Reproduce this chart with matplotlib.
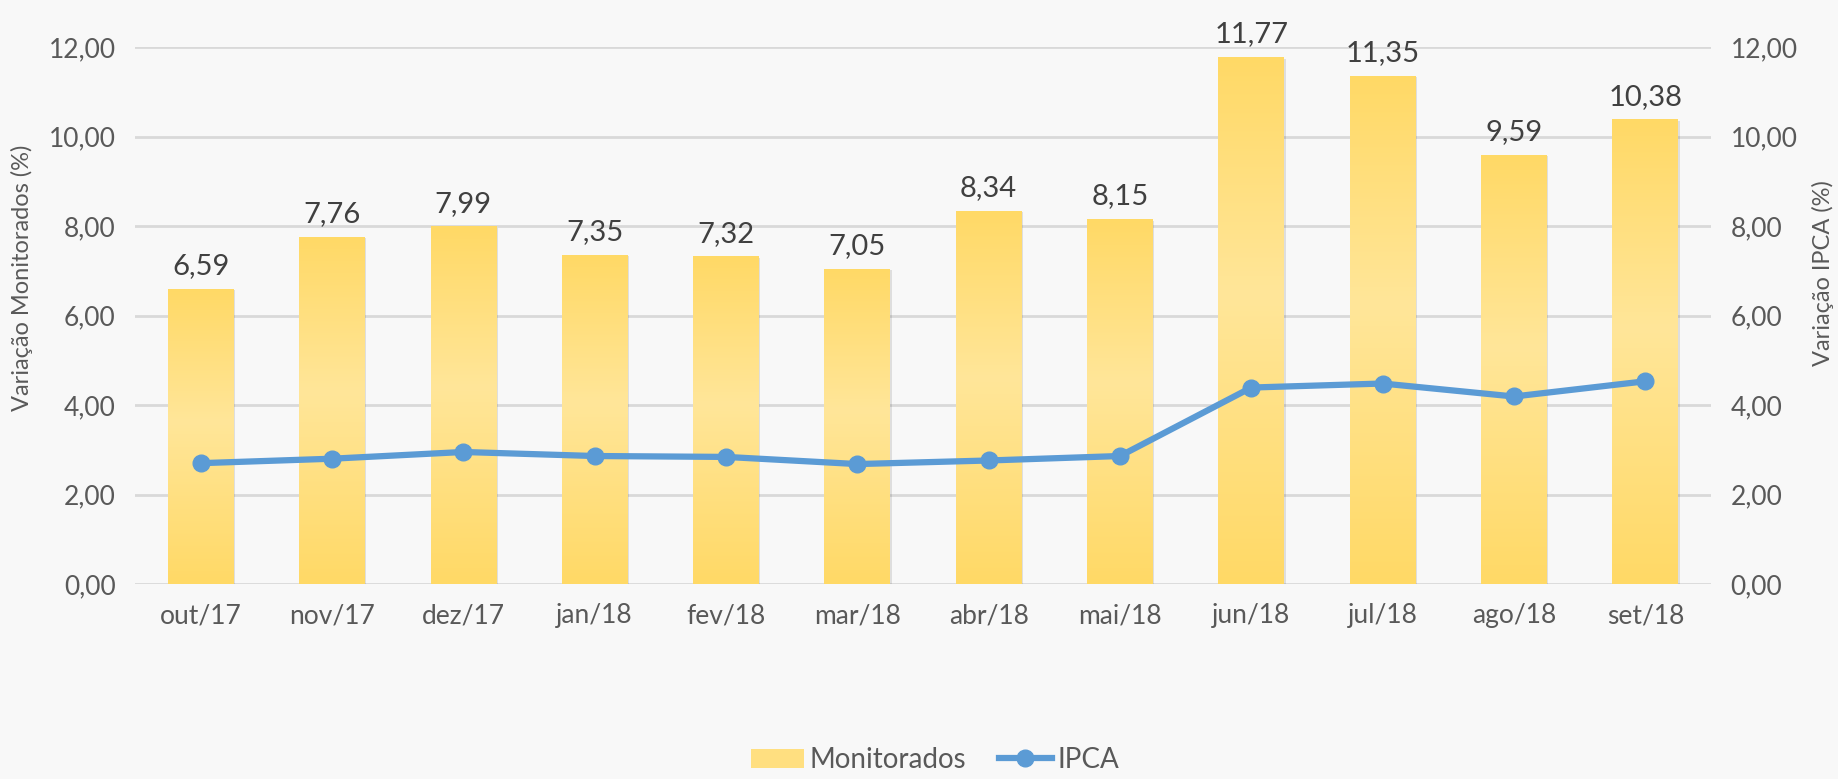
import numpy as np
import matplotlib
matplotlib.use("Agg")
import matplotlib.pyplot as plt
from matplotlib.colors import LinearSegmentedColormap
from matplotlib.patches import Rectangle
from matplotlib.lines import Line2D
from matplotlib.ticker import FuncFormatter

plt.rcParams['font.family'] = ['Lato', 'DejaVu Sans']

# data
meses = ["out/17", "nov/17", "dez/17", "jan/18", "fev/18", "mar/18",
         "abr/18", "mai/18", "jun/18", "jul/18", "ago/18", "set/18"]
monitorados = [6.59, 7.76, 7.99, 7.35, 7.32, 7.05, 8.34, 8.15, 11.77, 11.35, 9.59, 10.38]
ipca = [2.70, 2.80, 2.95, 2.86, 2.84, 2.68, 2.76, 2.86, 4.39, 4.48, 4.19, 4.53]
yticks = [0, 2, 4, 6, 8, 10, 12]

bg = "#f8f8f8"
txt = "#595959"
grid = "#d9d9d9"
azul = "#5b9bd5"

fig = plt.figure(figsize=(18.38, 7.79), dpi=100, facecolor=bg)
ax = fig.add_axes([135 / 1838, 1 - 584 / 779, (1711 - 135) / 1838, (584 - 47) / 779])
ax.set_facecolor(bg)
ax2 = ax.twinx()

x = np.arange(len(meses))

# gradient bars (Excel style: darker at ends, lighter in the middle)
cmap = LinearSegmentedColormap.from_list(
    "ouro", [(0, "#ffd966"), (0.55, "#ffe699"), (1, "#ffd966")])
grad = np.linspace(0, 1, 256).reshape(-1, 1)
bars = ax.bar(x, monitorados, width=0.5, color="none", zorder=2)
for b, v in zip(bars, monitorados):
    bx, bw = b.get_x(), b.get_width()
    # soft shadow
    ax.add_patch(Rectangle((bx + 0.012, 0), bw, v - 0.03, facecolor="#000000",
                           alpha=0.10, lw=0, zorder=1.8))
    im = ax.imshow(grad, cmap=cmap, extent=[bx, bx + bw, 0, v], origin="lower",
                   aspect="auto", zorder=2)
    im.set_clip_path(b)
    ax.text(bx + bw / 2, v + 0.22, f"{v:.2f}".replace(".", ","),
            ha="center", va="bottom", fontsize=21, color="#404040")
ax.set_xlim(-0.5, len(meses) - 0.5)
ax.set_ylim(0, 12)
ax2.set_ylim(0, 12)

ax2.plot(x, ipca, color=azul, lw=4.5, marker="o", markersize=12,
         solid_joinstyle="round", zorder=3)

fmt = FuncFormatter(lambda v, p: f"{v:.2f}".replace(".", ","))
for a in (ax, ax2):
    a.set_yticks(yticks)
    a.yaxis.set_major_formatter(fmt)
    a.tick_params(axis="y", length=0, labelsize=19, labelcolor=txt, pad=14)
    for s in a.spines.values():
        s.set_visible(False)
ax.set_xticks(x)
ax.set_xticklabels(meses)
ax.tick_params(axis="x", length=0, labelsize=19, labelcolor=txt, pad=14)
ax.grid(axis="y", color=grid, lw=2, zorder=0)
ax.set_axisbelow(True)

fig.text(22 / 1838, 1 - 278 / 779, "Variação Monitorados (%)", rotation=90,
         ha="center", va="center", fontsize=17, color=txt)
fig.text(1823 / 1838, 1 - 273 / 779, "Variação IPCA (%)", rotation=90,
         ha="center", va="center", fontsize=17, color=txt)

handles = [Rectangle((0, 0), 1, 1, facecolor="#ffdf80", edgecolor="none"),
           Line2D([], [], color=azul, lw=4.5, marker="o", markersize=12)]
fig.legend(handles, ["Monitorados", "IPCA"], loc="center",
           bbox_to_anchor=(935 / 1838, 1 - 760 / 779), ncol=2, frameon=False,
           fontsize=20, labelcolor=txt, handlelength=1.9, handletextpad=0.2,
           columnspacing=1.2)

fig.savefig("out.png", dpi=100, facecolor=bg)
